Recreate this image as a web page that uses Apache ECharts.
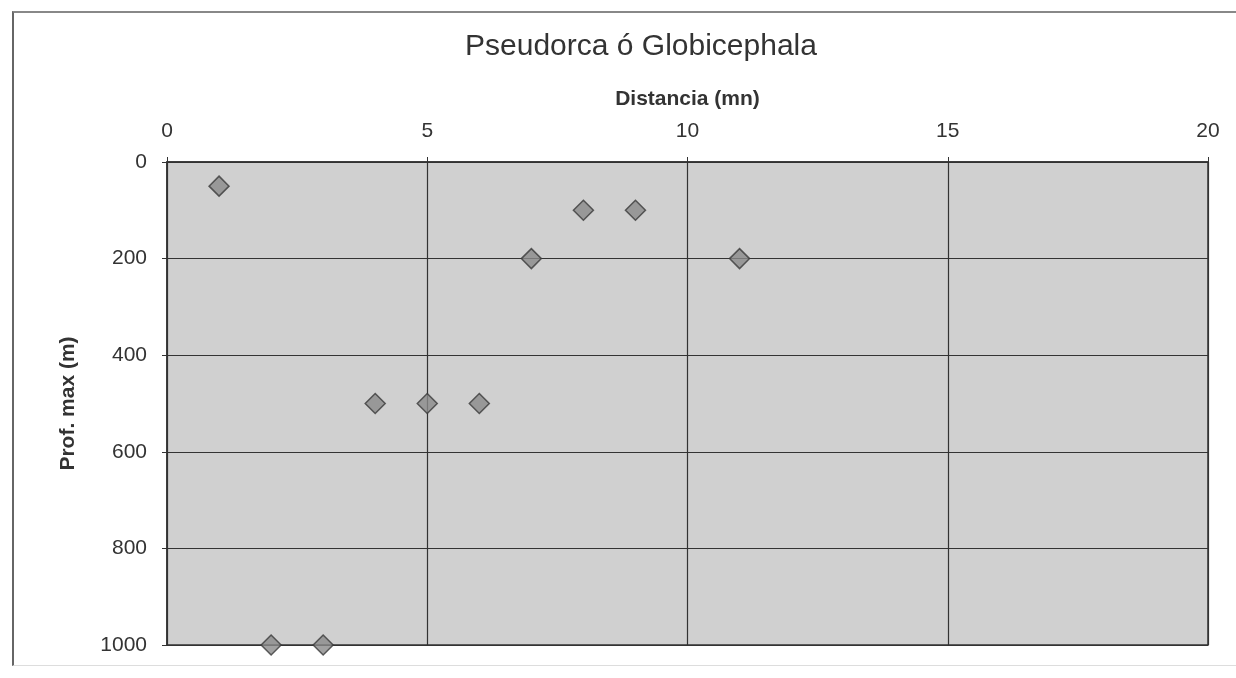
<!DOCTYPE html>
<html>
	<head>
		<meta charset="utf-8" />
		<title>Pseudorca ó Globicephala</title>
		<script type="text/javascript" src="https://cdn.jsdelivr.net/npm/echarts@6/dist/echarts.min.js"></script>
		<style>
			body { margin: 0; background: #fff; }
			#frame { position: absolute; left: 12px; top: 11px; width: 1230px; height: 652px;
				border-left: 2px solid #666; border-top: 2px solid #888; border-bottom: 1px solid #ddd; }
		</style>
		<script type="text/javascript">
		var myChart;

		// distancia (mn) y profundidad max (m)
		var distancia = [1, 8, 9, 7, 11, 4, 5, 6, 2, 3];
		var profundidad = [50, 100, 100, 200, 200, 500, 500, 500, 1000, 1000];
		var xTicks = [0, 5, 10, 15, 20];
		var yTicks = [0, 200, 400, 600, 800, 1000];

		function puntos(){
			var out = [];
			for (var i = 0; i < distancia.length; i++) {
				out.push([distancia[i], profundidad[i]]);
			}
			return out;
		}

		window.onload = function(){
			myChart = echarts.init(document.getElementById('main'));
			var option = {
				title: {
					text: 'Pseudorca ó Globicephala',
					left: 636,
					top: 27,
					textAlign: 'center',
					textStyle: { fontFamily: 'Liberation Sans', fontWeight: 'normal', fontSize: 30, color: '#333' }
				},
				grid: {
					left: 167, top: 162, right: 28, bottom: 33,
					show: true,
					backgroundColor: '#d0d0d0',
					borderColor: '#333',
					borderWidth: 1.5
				},
				xAxis: {
					type: 'value',
					position: 'top',
					min: xTicks[0], max: xTicks[xTicks.length - 1], interval: 5,
					name: 'Distancia (mn)',
					nameLocation: 'middle',
					nameGap: 52,
					nameTextStyle: { fontFamily: 'Liberation Sans', fontWeight: 'bold', fontSize: 21, color: '#333' },
					axisLine: { lineStyle: { color: '#333', width: 1.5 } },
					axisTick: { show: true, length: 5, lineStyle: { color: '#333' } },
					axisLabel: { fontFamily: 'Liberation Sans', fontSize: 21, color: '#333', margin: 20 },
					splitLine: { show: true, lineStyle: { color: '#333', width: 1.2 } }
				},
				yAxis: {
					type: 'value',
					inverse: true,
					min: yTicks[0], max: yTicks[yTicks.length - 1], interval: 200,
					name: 'Prof. max (m)',
					nameLocation: 'middle',
					nameGap: 88,
					nameTextStyle: { fontFamily: 'Liberation Sans', fontWeight: 'bold', fontSize: 21, color: '#333' },
					axisLine: { lineStyle: { color: '#333', width: 1.5 } },
					axisTick: { show: true, length: 5, lineStyle: { color: '#333' } },
					axisLabel: {
						fontFamily: 'Liberation Sans', fontSize: 21, color: '#333', margin: 20,
						formatter: function (v) { return String(v); }
					},
					splitLine: { show: true, lineStyle: { color: '#333', width: 1.2 } }
				},
				series: [{
					type: 'scatter',
					symbol: 'diamond',
					symbolSize: 20,
					itemStyle: { color: '#8a8a8a', borderColor: '#3a3a3a', borderWidth: 1.5 },
					data: puntos()
				}]
			};
			myChart.setOption(option);
		}
		</script>
	</head>
	<body>
		<div id="frame"></div>
		<div id="main" style="position:absolute;left:0;top:0;width:1236px;height:678px;"></div>
	</body>
</html>
